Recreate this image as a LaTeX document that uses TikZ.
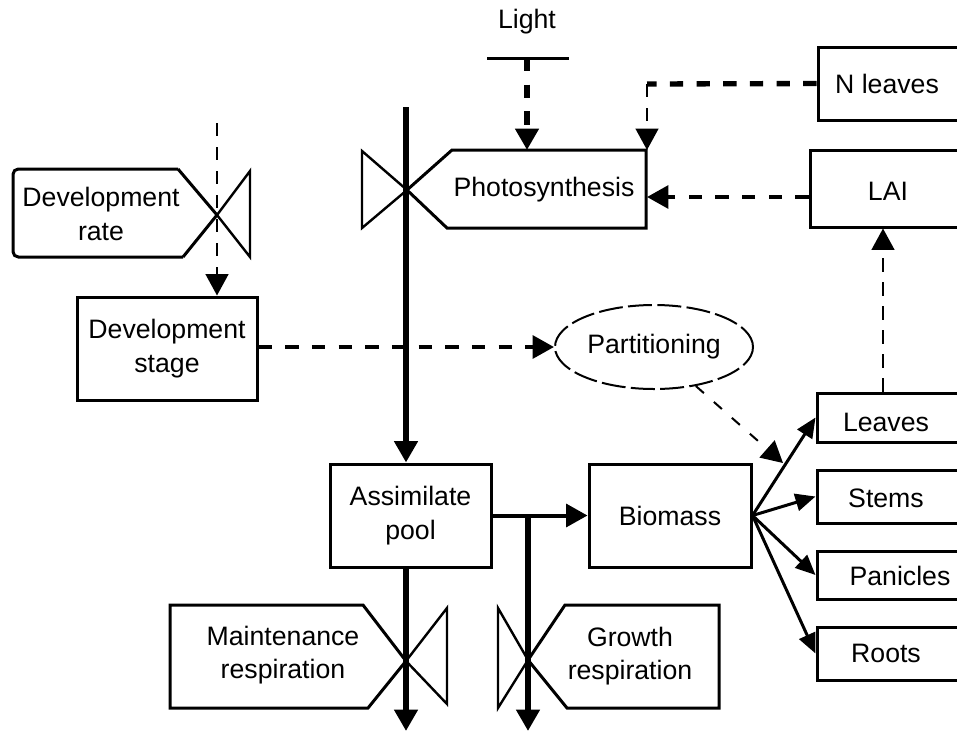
\documentclass[tikz,border=0pt]{standalone}
\usepackage{fontspec}
\setmainfont{Liberation Sans}
\usetikzlibrary{arrows.meta,shapes.geometric}
\begin{document}
\begin{tikzpicture}[x=0.75pt,y=-0.75pt,
  every node/.style={font=\fontsize{20}{25}\selectfont, inner sep=0pt, align=center},
  box/.style={draw, rectangle, line width=2.25pt},
  boxline/.style={line width=2.25pt, line join=miter},
  valveline/.style={line width=1.8pt, line join=miter},
  headA/.style={-{Triangle[length=16pt,width=17pt]}},
  headB/.style={-{Triangle[length=15pt,width=13pt]}},
  dashA/.style={line width=3pt, dash pattern=on 10pt off 10pt},
  dashB/.style={line width=1.6pt, dash pattern=on 10pt off 8pt},
  dashC/.style={line width=1.5pt, dash pattern=on 8pt off 10pt},
  flowthick/.style={line width=4.5pt, headA},
  flowmid/.style={line width=3pt, headA},
  branch/.style={line width=2.25pt, headB}
]
\useasboundingbox (0,0) rectangle (957,733);
\clip (0,0) rectangle (957,733);

% ---------- rectangular boxes ----------
\node[box, minimum width=135pt, minimum height=77.25pt] (devstage) at (167,348.5) {Development\\stage};
\node[box, minimum width=120.75pt, minimum height=77.25pt] (apool) at (410.5,515.5) {Assimilate\\pool};
\node[box, minimum width=121.5pt, minimum height=77.25pt] (biomass) at (670,515.5) {Biomass};
\node[box, minimum width=150pt, minimum height=54.75pt] (nleaves) at (918,83.5) {};
\node[box, minimum width=150pt, minimum height=57.75pt] (lai) at (910,188.5) {};
\node[box, minimum width=150pt, minimum height=36.75pt] (leaves) at (917,417.5) {};
\node[box, minimum width=150pt, minimum height=39.75pt] (stems) at (917,496.5) {};
\node[box, minimum width=150pt, minimum height=36pt] (panicles) at (917,575) {};
\node[box, minimum width=150pt, minimum height=39.75pt] (roots) at (917,653.5) {};
\node (nleavest) at (887,84) {N leaves};
\node (lait) at (888,191) {LAI};
\node (leavest) at (886,422) {Leaves};
\node (stemst) at (886,498) {Stems};
\node (paniclest) at (900,576) {Panicles};
\node (rootst) at (886,653) {Roots};

% ---------- partitioning ellipse ----------
\node[ellipse, draw, line width=1.5pt, dash pattern=on 18pt off 4pt,
      minimum width=148.5pt, minimum height=63pt] (part) at (654,347) {Partitioning};

% ---------- light ----------
\node (light) at (527,22) {Light};
\coordinate (lbl) at (487,58);
\coordinate (lbr) at (569,58);
\coordinate (lightbar) at (527,58);
\draw[line width=2.25pt] (lbl) -- (lbr);

% ---------- photosynthesis valve ----------
\coordinate (phtip) at (407,190);
\draw[boxline] (452,150) -- (646,150) -- (646,228) -- (447,228) -- (phtip) -- cycle;
\draw[valveline] (362,151) -- (phtip) -- (362,228) -- cycle;
\node (photo) at (544,190) {Photosynthesis};
\coordinate (phtop) at (527,150);
\coordinate (phne) at (647,150);
\coordinate (phe) at (647,197);
\coordinate (nlc) at (647,84);

% ---------- development rate valve ----------
\coordinate (drtip) at (217,215);
\draw[boxline, rounded corners=4pt] (178,169) -- (13,169) -- (13,257) -- (183,257);
\draw[boxline] (178,169) -- (drtip) -- (183,257);
\draw[valveline] (drtip) -- (250,171) -- (250,257) -- cycle;
\node (devrate) at (101,214) {Development\\rate};
\coordinate (drtop) at (217,123);

% ---------- maintenance respiration valve ----------
\coordinate (mtip) at (406,661);
\draw[boxline] (363,605) -- (170,605) -- (170,708) -- (368,708) -- (mtip) -- cycle;
\draw[valveline] (mtip) -- (447,608) -- (447,704) -- cycle;
\node (maint) at (283,655) {Maintenance\\respiration};

% ---------- growth respiration valve ----------
\coordinate (gtip) at (528,660);
\draw[valveline] (498,608) -- (gtip) -- (498,708) -- cycle;
\draw[boxline] (565,605) -- (719,605) -- (719,708) -- (567,708) -- (gtip) -- cycle;
\node (growth) at (630,656) {Growth\\respiration};

% ---------- info flows (dashed) ----------
\draw[dashA, line width=4pt, headA] (lightbar) -- (phtop);
\draw[dashA, line width=4pt] (nleaves.west) -- (nlc);
\draw[dashB, headA] (nlc) -- (phne);
\draw[dashA, headA] (lai.west |- phe) -- (phe);
\coordinate (lx) at (883,300);
\draw[dashB, headA] (leaves.north -| lx) -- (lai.south -| lx);
\draw[dashB, headA] (drtop) -- (devstage.north -| drtop);
\draw[dashA, headA] (devstage.east |- part.west) -- (part.west);
\coordinate (pend) at (783,463);
\draw[dashC, headA] (part.-43) -- (pend);

% ---------- material flows (solid) ----------
\coordinate (phx) at (406,107);
\draw[flowthick] (phx) -- (apool.north -| phx);
\draw[flowmid] (apool.east) -- (biomass.west);
\coordinate (gbranch) at (528,516);
\coordinate (gout) at (528,731);
\draw[flowthick] (gbranch) -- (gout);
\coordinate (mout) at (406,731);
\draw[flowthick] (apool.south -| mout) -- (mout);

\draw[branch] (biomass.east) -- (leaves.west);
\draw[branch] (biomass.east) -- (stems.west);
\draw[branch] (biomass.east) -- (panicles.west);
\draw[branch] (biomass.east) -- (roots.west);
\end{tikzpicture}
\end{document}
